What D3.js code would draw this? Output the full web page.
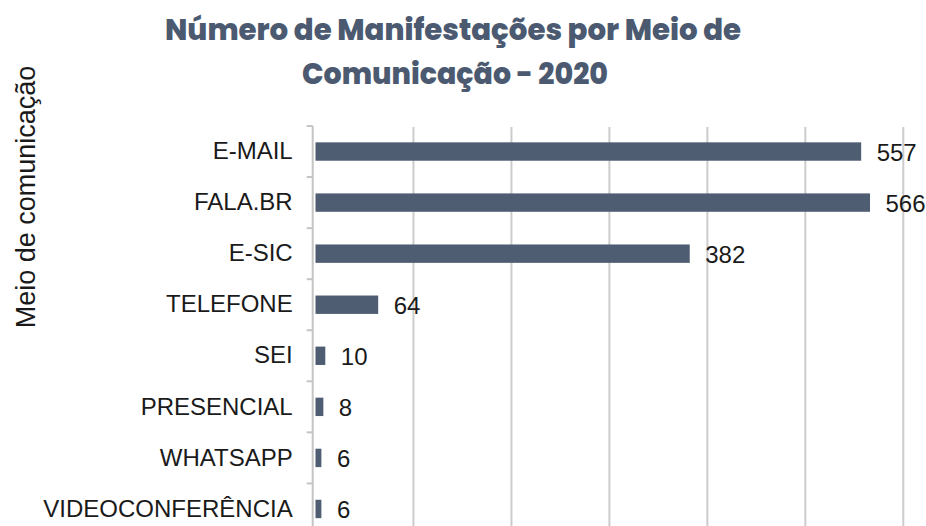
<!DOCTYPE html>
<html>
<head>
<meta charset="utf-8">
<script src="https://cdn.jsdelivr.net/npm/d3@7"></script>
<style>
  body { margin: 0; background: #fff; }
  svg { display: block; }
  .cat text { font-family: "Liberation Sans", Arial, sans-serif; font-size: 24px; fill: #1a1a1a; }
  .val { font-family: "Liberation Sans", Arial, sans-serif; font-size: 24px; fill: #1a1a1a; }
  .title { font-family: Poppins, Inter, "Open Sans", sans-serif; font-weight: 800; fill: #4b5a70; }
</style>
</head>
<body>
<div id="chart"></div>
<script>
// data
const categories = ["E-MAIL", "FALA.BR", "E-SIC", "TELEFONE", "SEI", "PRESENCIAL", "WHATSAPP", "VIDEOCONFERÊNCIA"];
const values = [557, 566, 382, 64, 10, 8, 6, 6];
const xTicks = [100, 200, 300, 400, 500, 600];
const titleLines = ["Número de Manifestações por Meio de", "Comunicação - 2020"];
const yTitle = "Meio de comunicação";

const width = 926;
const height = 526;
const barColor = "#4f5d73";
const gridColor = "#cccccc";

const svg = d3.select("#chart").append("svg")
    .attr("width", width)
    .attr("height", height);

//----------------------------SCALES----------------------------//
const xScale = d3.scaleLinear().domain([0, 600]).range([315.5, 903.3]);
const yScale = d3.scaleBand()
    .domain(categories)
    .range([126, 534.5])
    .paddingInner(0.64)
    .paddingOuter(0.32);

const axisX = xScale(0) - 2.8;

//-----------------------------TITLE----------------------------//
svg.append("text")
    .attr("class", "title")
    .attr("x", 453).attr("y", 40)
    .attr("text-anchor", "middle")
    .style("font-size", "30px")
    .attr("textLength", 576)
    .attr("lengthAdjust", "spacingAndGlyphs")
    .text(titleLines[0]);

svg.append("text")
    .attr("class", "title")
    .attr("x", 455).attr("y", 84)
    .attr("text-anchor", "middle")
    .style("font-size", "30px")
    .attr("textLength", 306)
    .attr("lengthAdjust", "spacingAndGlyphs")
    .text(titleLines[1]);

// y axis title
svg.append("text")
    .attr("transform", "translate(35,197) rotate(-90)")
    .attr("text-anchor", "middle")
    .style("font-family", "'Liberation Sans', Arial, sans-serif")
    .style("font-size", "27px")
    .style("fill", "#1a1a1a")
    .text(yTitle);

//-----------------------------GRID-----------------------------//
svg.append("g")
    .selectAll("line")
    .data(xTicks)
    .enter()
    .append("line")
    .attr("x1", d => xScale(d)).attr("x2", d => xScale(d))
    .attr("y1", 127).attr("y2", height)
    .attr("stroke", gridColor)
    .attr("stroke-width", 2);

// y axis line + ticks at band boundaries
const boundaries = categories.map(c => yScale(c) - yScale.step() * yScale.paddingInner() / 2);
boundaries.push(boundaries[boundaries.length - 1] + yScale.step());

svg.append("line")
    .attr("x1", axisX).attr("x2", axisX)
    .attr("y1", boundaries[0]).attr("y2", height)
    .attr("stroke", "#c4c4c4")
    .attr("stroke-width", 2);

svg.append("g")
    .selectAll("line")
    .data(boundaries)
    .enter()
    .append("line")
    .attr("x1", axisX - 6).attr("x2", axisX)
    .attr("y1", d => d).attr("y2", d => d)
    .attr("stroke", "#c4c4c4")
    .attr("stroke-width", 2);

// category labels
svg.append("g")
    .attr("class", "cat")
    .attr("transform", "translate(" + axisX + ",0)")
    .call(d3.axisLeft(yScale).tickSize(0).tickPadding(20))
    .call(g => g.select(".domain").remove());

//-----------------------------BARS-----------------------------//
const data = categories.map((c, i) => ({ cat: c, value: values[i] }));

svg.append("g")
    .selectAll("rect")
    .data(data)
    .enter()
    .append("rect")
    .attr("x", xScale(0))
    .attr("y", d => yScale(d.cat))
    .attr("width", d => xScale(d.value) - xScale(0))
    .attr("height", yScale.bandwidth())
    .attr("fill", barColor);

// value labels
svg.append("g")
    .selectAll("text")
    .data(data)
    .enter()
    .append("text")
    .attr("class", "val")
    .attr("x", d => xScale(d.value) + 15.5)
    .attr("y", d => yScale(d.cat) + yScale.bandwidth() / 2 + 9.2)
    .text(d => d.value);
</script>
</body>
</html>
